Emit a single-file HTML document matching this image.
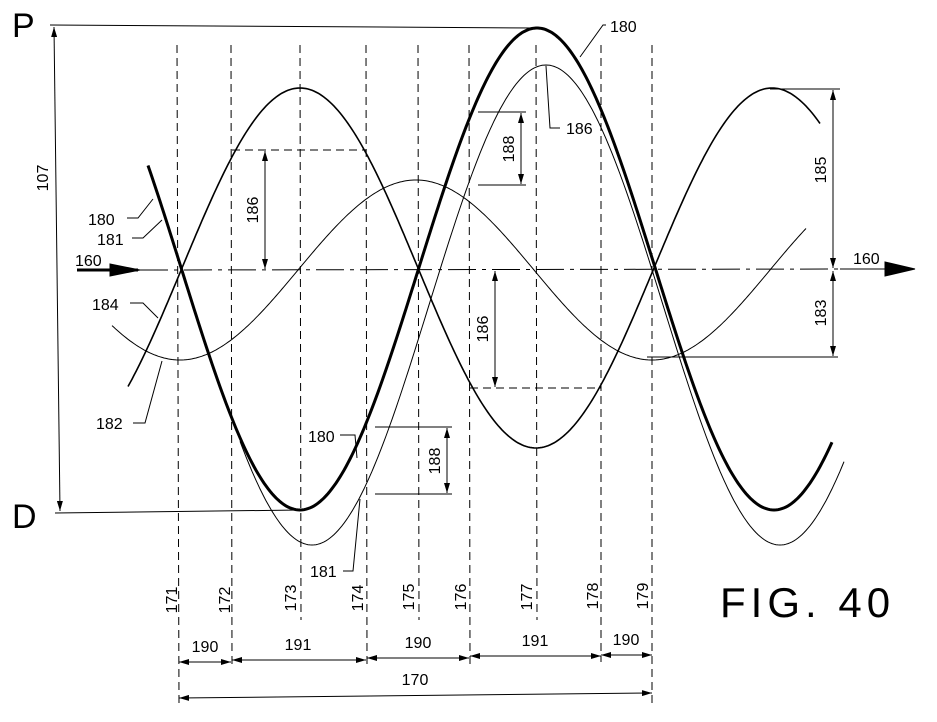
<!DOCTYPE html>
<html><head><meta charset="utf-8"><style>
html,body{margin:0;padding:0;background:#fff}
svg{display:block}
text{font-family:"Liberation Sans",sans-serif;fill:#000}
</style></head><body>
<svg id="s" width="937" height="722" viewBox="0 0 937 722" xmlns="http://www.w3.org/2000/svg">
<defs>
<marker id="a" viewBox="0 0 10 6" refX="10" refY="3" markerWidth="10" markerHeight="6" orient="auto-start-reverse" markerUnits="userSpaceOnUse"><path d="M0,0 L10,3 L0,6z" fill="#000"/></marker>
</defs>
<g stroke="#000" fill="none" stroke-width="1">
<g stroke-dasharray="8,5">
<line x1="177" y1="45" x2="179" y2="705"/>
<line x1="231" y1="45" x2="232" y2="668"/>
<line x1="300" y1="45" x2="301" y2="620"/>
<line x1="366" y1="45" x2="367" y2="666"/>
<line x1="418" y1="45" x2="419" y2="620"/>
<line x1="469" y1="45" x2="470" y2="664"/>
<line x1="536" y1="45" x2="537" y2="620"/>
<line x1="601" y1="45" x2="601" y2="662"/>
<line x1="652" y1="45" x2="652" y2="705"/>
</g>
<line x1="140" y1="270" x2="860" y2="269" stroke-dasharray="28,6,4,6"/>
<line x1="77" y1="270" x2="138" y2="270" stroke-width="3"/>
<path d="M110,264 L140,270 L110,276z" fill="#000"/>
<line x1="840" y1="269" x2="885" y2="269"/>
<path d="M885,262 L915,269 L885,276z" fill="#000"/>
<line x1="50" y1="25" x2="537" y2="28"/>
<line x1="55" y1="513" x2="300" y2="510"/>
<line x1="54" y1="27" x2="60" y2="511" marker-start="url(#a)" marker-end="url(#a)"/>
<path id="c1" stroke-width="3"/>
<path id="c2" stroke-width="1.6"/>
<path id="c3" stroke-width="1"/>
<path id="c4" stroke-width="1"/>
<line x1="232" y1="150" x2="366" y2="150" stroke-dasharray="8,5"/>
<line x1="265" y1="151" x2="265" y2="269" marker-start="url(#a)" marker-end="url(#a)"/>
<line x1="375" y1="427" x2="452" y2="427"/>
<line x1="375" y1="494" x2="452" y2="494"/>
<line x1="447" y1="428" x2="447" y2="493" marker-start="url(#a)" marker-end="url(#a)"/>
<line x1="478" y1="112" x2="526" y2="112"/>
<line x1="478" y1="185" x2="526" y2="185"/>
<line x1="521" y1="113" x2="521" y2="184" marker-start="url(#a)" marker-end="url(#a)"/>
<line x1="470" y1="388" x2="601" y2="388" stroke-dasharray="8,5"/>
<line x1="495" y1="271" x2="495" y2="387" marker-start="url(#a)" marker-end="url(#a)"/>
<line x1="770" y1="89" x2="840" y2="89"/>
<line x1="833" y1="90" x2="833" y2="268" marker-start="url(#a)" marker-end="url(#a)"/>
<line x1="647" y1="357" x2="838" y2="357"/>
<line x1="833" y1="271" x2="833" y2="356" marker-start="url(#a)" marker-end="url(#a)"/>
<path d="M127,218 L138,218 L153,199"/>
<path d="M132,238 L143,238 L162,220"/>
<path d="M130,303 L143,303 L158,318"/>
<path d="M133,423 L145,423 L162,361"/>
<path d="M340,435 L355,435 L357,458"/>
<path d="M343,571 L353,571 L360,499"/>
<path d="M606,25 L603,25 L580,57"/>
<path d="M546,66 L550,128 L560,128"/>
<line x1="179" y1="662" x2="231" y2="662" marker-start="url(#a)" marker-end="url(#a)"/>
<line x1="232" y1="660" x2="366" y2="660" marker-start="url(#a)" marker-end="url(#a)"/>
<line x1="367" y1="658" x2="469" y2="658" marker-start="url(#a)" marker-end="url(#a)"/>
<line x1="470" y1="656" x2="601" y2="656" marker-start="url(#a)" marker-end="url(#a)"/>
<line x1="601" y1="655" x2="652" y2="655" marker-start="url(#a)" marker-end="url(#a)"/>
<line x1="179" y1="698" x2="652" y2="693" marker-start="url(#a)" marker-end="url(#a)"/>
</g>
<g font-size="16">
<text x="12" y="37" font-size="34">P</text>
<text x="12" y="528" font-size="34">D</text>
<text transform="translate(48,178) rotate(-90)" text-anchor="middle">107</text>
<text x="88" y="225">180</text>
<text x="97" y="245">181</text>
<text x="75" y="266">160</text>
<text x="92" y="310">184</text>
<text x="96" y="429">182</text>
<text transform="translate(258,210) rotate(-90)" text-anchor="middle">186</text>
<text x="308" y="442">180</text>
<text transform="translate(440,461) rotate(-90)" text-anchor="middle">188</text>
<text x="310" y="577">181</text>
<text x="610" y="32">180</text>
<text x="566" y="134">186</text>
<text transform="translate(514,149) rotate(-90)" text-anchor="middle">188</text>
<text transform="translate(488,329) rotate(-90)" text-anchor="middle">186</text>
<text transform="translate(826,170) rotate(-90)" text-anchor="middle">185</text>
<text transform="translate(826,313) rotate(-90)" text-anchor="middle">183</text>
<text x="853" y="264">160</text>
<g text-anchor="middle">
<text transform="translate(177,600) rotate(-90)">171</text>
<text transform="translate(230,600) rotate(-90)">172</text>
<text transform="translate(296,598) rotate(-90)">173</text>
<text transform="translate(363,598) rotate(-90)">174</text>
<text transform="translate(414,597) rotate(-90)">175</text>
<text transform="translate(466,597) rotate(-90)">176</text>
<text transform="translate(532,597) rotate(-90)">177</text>
<text transform="translate(598,596) rotate(-90)">178</text>
<text transform="translate(648,596) rotate(-90)">179</text>
<text x="205" y="652">190</text>
<text x="298" y="650">191</text>
<text x="418" y="648">190</text>
<text x="535" y="646">191</text>
<text x="626" y="645">190</text>
<text x="415" y="685">170</text>
</g>
<text x="720" y="617" font-size="42" style="letter-spacing:5px">FIG. 40</text>
</g>
</svg>
<script>
function cosPath(x0,x1,c,A,xt,half){var d="";for(var x=x0;x<=x1;x+=2){var y=c+A*Math.cos(Math.PI*(x-xt)/half);d+=(x==x0?"M":"L")+x.toFixed(1)+","+y.toFixed(1);}return d;}
document.getElementById("c1").setAttribute("d",cosPath(148,832,269,241,300,237));
document.getElementById("c2").setAttribute("d",cosPath(128,820,268,-180,300,236));
document.getElementById("c3").setAttribute("d",cosPath(112,806,270,90,180,236));
document.getElementById("c4").setAttribute("d",cosPath(240,844,305,240,312,234));
</script>
</body></html>
